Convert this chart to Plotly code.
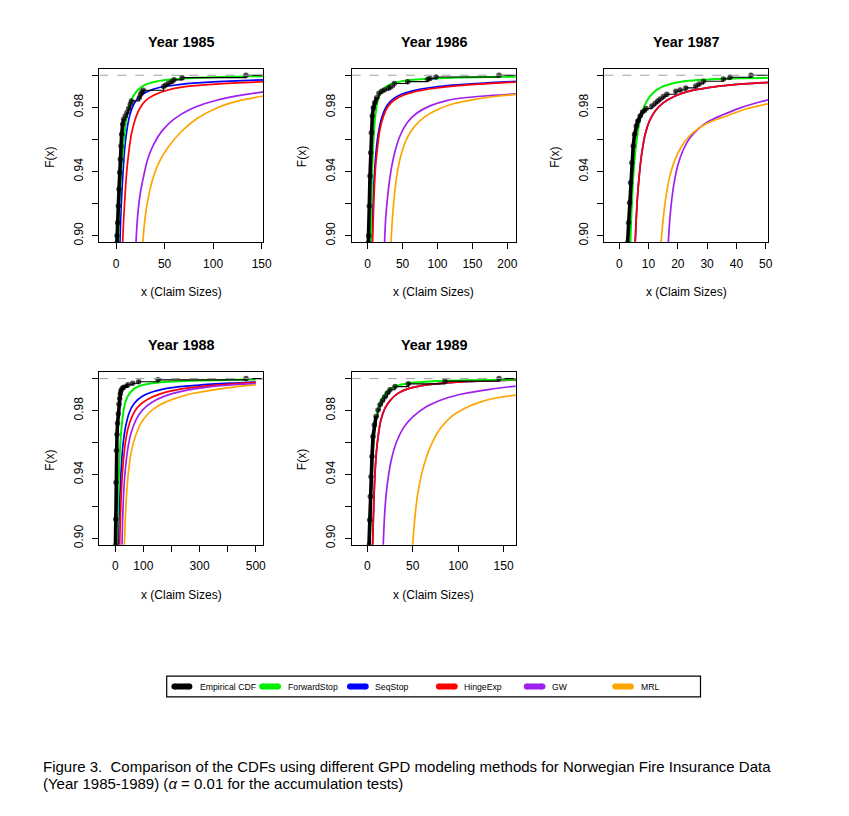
import plotly.graph_objects as go

W, H = 849, 816

# ------------------------------------------------------------------ data
years = ["1985", "1986", "1987", "1988", "1989"]
methods = ["Empirical CDF", "ForwardStop", "SeqStop", "HingeExp", "GW", "MRL"]
method_colors = ["#000000", "#00ee00", "#0000ff", "#ff0000", "#a020f0", "#ffa500"]

# ---- Year 1985
x85_emp = [0.9, 1.03, 1.72, 2.40, 3.09, 3.78, 4.47, 5.15, 5.83, 6.87, 7.89, 9.61, 11.33, 13.04, 14.75, 15.83,
           24.03, 25.40, 26.77, 28.14, 49.05, 51.19, 54.22, 57.35, 59.70, 68.00, 133.8]
F85_emp = [0.8955, 0.9000, 0.9081, 0.9185, 0.9289, 0.9393, 0.9476, 0.9559, 0.9632, 0.9694, 0.9725, 0.9746, 0.9767,
           0.9792, 0.9819, 0.9840, 0.9860, 0.9881, 0.9896, 0.9906, 0.9929, 0.9939, 0.9950, 0.9960, 0.9971, 0.9985, 1.0]
x85_fs = [2.2, 3.13, 4.10, 5.47, 7.23, 9.28, 12.02, 15.44, 20.22, 26.77, 35.37, 49.05, 69.66, 100.6, 155]
F85_fs = [0.894, 0.9102, 0.9247, 0.9393, 0.9538, 0.9663, 0.9767, 0.9840, 0.9892, 0.9929, 0.9952, 0.9969, 0.9979, 0.9988, 0.9994]
x85_ss = [4.0, 4.79, 5.86, 7.23, 8.89, 11.33, 14.46, 18.86, 25.01, 33.61, 45.63, 62.82, 83.44, 117.7, 155]
F85_ss = [0.894, 0.9102, 0.9247, 0.9393, 0.9538, 0.9663, 0.9756, 0.9825, 0.9871, 0.9902, 0.9925, 0.9940, 0.9952, 0.9963, 0.9972]
x85_he = [6.7, 7.91, 9.28, 10.94, 13.09, 15.83, 19.25, 24.03, 30.19, 38.79, 52.56, 69.66, 93.69, 124.6, 155]
F85_he = [0.894, 0.9102, 0.9247, 0.9393, 0.9517, 0.9632, 0.9715, 0.9788, 0.9840, 0.9875, 0.9906, 0.9927, 0.9941, 0.9952, 0.9960]
x85_gw = [20.4, 22.3, 25.1, 28.5, 32.6, 38.8, 47.4, 59.4, 76.6, 97.2, 124.6, 155]
F85_gw = [0.894, 0.9123, 0.9268, 0.9372, 0.9476, 0.9569, 0.9653, 0.9725, 0.9788, 0.9833, 0.9871, 0.9899]
x85_mrl = [27.3, 30.2, 33.6, 38.8, 45.7, 54.2, 66.3, 83.4, 104.0, 128.0, 155]
F85_mrl = [0.894, 0.9123, 0.9247, 0.9372, 0.9474, 0.9555, 0.9643, 0.9730, 0.9796, 0.9843, 0.9873]

# ---- Year 1986
x86_emp = [0.9, 1.4, 2.3, 3.3, 4.25, 5.2, 6.6, 8.1, 10.0, 12.8, 16.2, 20.0, 23.8, 29.5, 32.9, 38.1, 57.2, 85.9,
           89.2, 97.8, 188.0]
F86_emp = [0.8955, 0.9000, 0.9185, 0.9372, 0.9517, 0.9642, 0.9746, 0.9798, 0.9829, 0.9860, 0.9887, 0.9900, 0.9908,
           0.9919, 0.9927, 0.9948, 0.9960, 0.9975, 0.9979, 0.9989, 1.0]
x86_fs = [4.1, 4.7, 5.7, 6.6, 8.1, 10.0, 12.8, 16.6, 22.4, 31.9, 46.2, 70.0, 103.5, 156.0, 215]
F86_fs = [0.894, 0.9123, 0.9289, 0.9434, 0.9580, 0.9705, 0.9808, 0.9871, 0.9912, 0.9943, 0.9960, 0.9973, 0.9981, 0.9988, 0.9991]
x86_ss = [6.0, 7.1, 8.5, 10.4, 12.8, 16.2, 20.9, 27.2, 35.7, 48.6, 67.7, 93.9, 127.3, 170.3, 215]
F86_ss = [0.894, 0.9123, 0.9289, 0.9434, 0.9559, 0.9663, 0.9746, 0.9808, 0.9850, 0.9881, 0.9906, 0.9925, 0.9940, 0.9952, 0.9962]
x86_he = [6.9, 8.1, 9.5, 11.4, 14.3, 17.6, 22.4, 28.6, 37.6, 51.0, 70.1, 96.3, 129.7, 170.3, 215]
F86_he = [0.894, 0.9123, 0.9289, 0.9434, 0.9559, 0.9663, 0.9742, 0.9802, 0.9844, 0.9875, 0.9900, 0.9919, 0.9935, 0.9947, 0.9958]
x86_gw = [24.0, 25.7, 28.6, 32.9, 38.6, 46.2, 56.7, 70.1, 89.2, 113.0, 141.7, 175.1, 215]
F86_gw = [0.894, 0.9102, 0.9247, 0.9393, 0.9517, 0.9621, 0.9705, 0.9763, 0.9809, 0.9842, 0.9861, 0.9873, 0.9884]
x86_mrl = [33.1, 35.3, 38.1, 42.4, 48.6, 56.7, 67.7, 82.0, 101.1, 124.9, 153.6, 184.6, 215]
F86_mrl = [0.894, 0.9102, 0.9247, 0.9393, 0.9517, 0.9611, 0.9684, 0.9742, 0.9788, 0.9825, 0.9850, 0.9869, 0.9882]

# ---- Year 1987
x87_emp = [2.84, 3.18, 3.52, 3.86, 4.32, 4.77, 5.23, 5.80, 6.36, 7.16, 7.95, 9.20, 11.14, 12.27, 13.18, 13.98,
           15.11, 16.25, 19.32, 20.80, 22.73, 26.14, 27.27, 28.75, 35.57, 37.84, 45.0]
F87_emp = [0.8955, 0.9081, 0.9206, 0.9330, 0.9455, 0.9559, 0.9632, 0.9684, 0.9715, 0.9746, 0.9771, 0.9792, 0.9808,
           0.9825, 0.9840, 0.9852, 0.9867, 0.9881, 0.9900, 0.9908, 0.9921, 0.9933, 0.9946, 0.9962, 0.9977, 0.9987, 1.0]
x87_fs = [3.8, 4.09, 4.43, 4.89, 5.57, 6.48, 7.73, 9.43, 11.70, 14.55, 18.52, 23.64, 31.59, 41.82, 52]
F87_fs = [0.894, 0.9102, 0.9247, 0.9393, 0.9538, 0.9663, 0.9767, 0.9840, 0.9892, 0.9927, 0.9950, 0.9965, 0.9975, 0.9981, 0.9984]
x87_ss = [5.4, 5.80, 6.25, 6.93, 7.73, 8.86, 10.34, 12.27, 15.11, 19.09, 24.20, 30.45, 38.41, 52]
F87_ss = [0.894, 0.9102, 0.9247, 0.9393, 0.9517, 0.9632, 0.9715, 0.9777, 0.9829, 0.9871, 0.9902, 0.9923, 0.9940, 0.9956]
x87_he = [5.4, 5.80, 6.25, 6.93, 7.73, 8.86, 10.34, 12.27, 15.11, 19.09, 24.20, 30.45, 38.41, 52]
F87_he = [0.894, 0.9102, 0.9247, 0.9393, 0.9517, 0.9632, 0.9715, 0.9777, 0.9829, 0.9871, 0.9902, 0.9923, 0.9940, 0.9956]
x87_gw = [16.7, 17.27, 17.95, 18.86, 20.11, 21.82, 23.98, 26.82, 30.45, 35.0, 40.68, 46.36, 52]
F87_gw = [0.894, 0.9102, 0.9227, 0.9341, 0.9445, 0.9534, 0.9605, 0.9663, 0.9711, 0.9750, 0.9792, 0.9825, 0.9851]
x87_mrl = [14.2, 15.0, 15.91, 17.16, 18.86, 21.14, 23.98, 27.39, 31.59, 36.70, 42.95, 52]
F87_mrl = [0.894, 0.9102, 0.9237, 0.9362, 0.9466, 0.9553, 0.9621, 0.9673, 0.9713, 0.9746, 0.9788, 0.9827]

# ---- Year 1988
x88_emp = [0.5, 1.5, 2.5, 4.0, 6.0, 8.0, 10.7, 13.0, 15.4, 18.0, 20.2, 24.9, 29.7, 45.1, 61.8, 83.1, 152.0, 465.6]
F88_emp = [0.8955, 0.9120, 0.9350, 0.9550, 0.9650, 0.9720, 0.9780, 0.9840, 0.9875, 0.9905, 0.9925, 0.9940, 0.9945,
           0.9961, 0.9971, 0.9980, 0.9992, 1.0]
x88_fs = [5.5, 8.3, 10.7, 14.3, 17.8, 23.8, 32.1, 43.9, 65.3, 101.0, 160.3, 267.2, 409.7, 500]
F88_fs = [0.894, 0.9115, 0.9282, 0.9449, 0.9595, 0.9721, 0.9825, 0.9888, 0.9934, 0.9961, 0.9977, 0.9987, 0.9992, 0.9994]
x88_ss = [10.5, 13.1, 16.6, 21.4, 27.3, 36.8, 49.9, 67.7, 95.0, 136.6, 196.0, 291.0, 409.7, 500]
F88_ss = [0.894, 0.9115, 0.9282, 0.9449, 0.9585, 0.9700, 0.9788, 0.9846, 0.9888, 0.9919, 0.9942, 0.9958, 0.9971, 0.9978]
x88_he = [15.2, 17.8, 21.4, 26.1, 33.3, 43.9, 59.4, 79.6, 112.8, 160.3, 231.6, 326.6, 433.5, 500]
F88_he = [0.894, 0.9115, 0.9282, 0.9428, 0.9564, 0.9679, 0.9762, 0.9821, 0.9867, 0.9904, 0.9934, 0.9955, 0.9969, 0.9976]
x88_gw = [23.6, 26.1, 29.7, 35.6, 43.9, 55.8, 73.6, 97.4, 130.6, 178.1, 243.5, 326.6, 433.5, 500]
F88_gw = [0.894, 0.9115, 0.9282, 0.9428, 0.9554, 0.9658, 0.9742, 0.9804, 0.9852, 0.9892, 0.9923, 0.9946, 0.9963, 0.9969]
x88_mrl = [31.8, 35.6, 40.4, 47.5, 57.0, 71.3, 91.4, 118.8, 154.4, 207.8, 279.1, 362.2, 457.2, 500]
F88_mrl = [0.894, 0.9115, 0.9282, 0.9428, 0.9543, 0.9637, 0.9721, 0.9783, 0.9831, 0.9873, 0.9908, 0.9933, 0.9955, 0.9960]

# ---- Year 1989
x89_emp = [1.8, 2.57, 3.30, 4.04, 5.14, 6.24, 7.70, 9.54, 11.74, 13.94, 16.51, 19.08, 22.01, 24.94, 30.45, 45.12,
           85.47, 144.9]
F89_emp = [0.8955, 0.9115, 0.9261, 0.9386, 0.9512, 0.9637, 0.9710, 0.9762, 0.9804, 0.9836, 0.9861, 0.9884, 0.9909,
           0.9930, 0.9950, 0.9967, 0.9984, 1.0]
x89_fs = [2.8, 3.67, 4.40, 5.50, 6.97, 9.17, 12.11, 16.51, 23.11, 32.28, 46.96, 72.63, 109.3, 166]
F89_fs = [0.894, 0.9115, 0.9282, 0.9449, 0.9595, 0.9721, 0.9815, 0.9877, 0.9925, 0.9955, 0.9973, 0.9984, 0.9990, 0.9994]
x89_ss = [5.7, 6.60, 7.34, 8.44, 9.90, 12.11, 15.04, 19.44, 25.68, 34.12, 46.96, 65.30, 90.98, 127.7, 166]
F89_ss = [0.894, 0.9115, 0.9261, 0.9407, 0.9533, 0.9648, 0.9742, 0.9815, 0.9867, 0.9909, 0.9940, 0.9961, 0.9975, 0.9986, 0.9992]
x89_he = [5.7, 6.60, 7.34, 8.44, 9.90, 12.11, 15.04, 19.44, 25.68, 34.12, 46.96, 65.30, 90.98, 127.7, 166]
F89_he = [0.894, 0.9115, 0.9261, 0.9407, 0.9533, 0.9648, 0.9742, 0.9815, 0.9867, 0.9909, 0.9940, 0.9961, 0.9975, 0.9986, 0.9992]
x89_gw = [17.4, 18.7, 20.5, 23.1, 26.8, 32.3, 39.6, 50.6, 65.3, 83.6, 105.6, 134.9, 166]
F89_gw = [0.894, 0.9115, 0.9261, 0.9386, 0.9501, 0.9606, 0.9690, 0.9763, 0.9825, 0.9871, 0.9905, 0.9933, 0.9955]
x89_mrl = [49.6, 52.1, 55.0, 59.1, 64.6, 71.9, 80.7, 92.8, 107.5, 125.8, 146.0, 166]
F89_mrl = [0.894, 0.9115, 0.9261, 0.9386, 0.9501, 0.9606, 0.9690, 0.9763, 0.9815, 0.9856, 0.9883, 0.9898]

# number of leading empirical points that form the dense black band
dense_n = [11, 10, 12, 14, 8]
# x where the empirical CDF's last flat segment ends (right edge)
emp_end = [160, 220, 53, 540, 170]

# axis settings
x_ranges = [[-17.2, 151.7], [-22.9, 211.9], [-5.1, 50.9], [-57, 527], [-17.2, 163.3]]
x_tickvals = [[0, 50, 100, 150], [0, 50, 100, 150, 200], [0, 10, 20, 30, 40, 50],
              [0, 100, 200, 300, 400, 500], [0, 50, 100, 150]]
x_ticktext = [["0", "50", "100", "150"], ["0", "50", "100", "150", "200"],
              ["0", "10", "20", "30", "40", "50"], ["0", "100", "", "300", "", "500"],
              ["0", "50", "100", "150"]]
y_range = [0.896, 1.004]
y_tickvals = [0.90, 0.92, 0.94, 0.96, 0.98, 1.00]
y_ticktext = ["0.90", "", "0.94", "", "0.98", ""]

# ------------------------------------------------------------------ layout geometry (pixels)
box_x = [(99.3, 263.3), (351.7, 515.7), (604.3, 768.3), (99.3, 263.3), (351.7, 515.7)]
box_y = [(68.8, 242.1), (68.8, 242.1), (68.8, 242.1), (372.2, 544.7), (372.2, 544.7)]
title_y = [41.7, 41.7, 41.7, 345.0, 345.0]
xlab_y = [291.7, 291.7, 291.7, 595.0, 595.0]


def px(xp):
    return xp / W


def py(yp):
    return 1 - yp / H


panel_data = [
    (x85_emp, F85_emp, [(x85_ss, F85_ss), (x85_he, F85_he), (x85_gw, F85_gw), (x85_mrl, F85_mrl), (x85_fs, F85_fs)]),
    (x86_emp, F86_emp, [(x86_ss, F86_ss), (x86_he, F86_he), (x86_gw, F86_gw), (x86_mrl, F86_mrl), (x86_fs, F86_fs)]),
    (x87_emp, F87_emp, [(x87_ss, F87_ss), (x87_he, F87_he), (x87_gw, F87_gw), (x87_mrl, F87_mrl), (x87_fs, F87_fs)]),
    (x88_emp, F88_emp, [(x88_ss, F88_ss), (x88_he, F88_he), (x88_gw, F88_gw), (x88_mrl, F88_mrl), (x88_fs, F88_fs)]),
    (x89_emp, F89_emp, [(x89_ss, F89_ss), (x89_he, F89_he), (x89_gw, F89_gw), (x89_mrl, F89_mrl), (x89_fs, F89_fs)]),
]
curve_colors = [method_colors[2], method_colors[3], method_colors[4], method_colors[5], method_colors[1]]
curve_names = [methods[2], methods[3], methods[4], methods[5], methods[1]]

fig = go.Figure()
FONT = "Liberation Sans, Arial, Helvetica, sans-serif"

for i in range(5):
    xa = "x" if i == 0 else f"x{i+1}"
    ya = "y" if i == 0 else f"y{i+1}"
    ex, eF, curves = panel_data[i]
    # fitted CDF curves
    for (cx, cF), col, nm in zip(curves, curve_colors, curve_names):
        fig.add_trace(go.Scatter(x=cx, y=cF, mode="lines", xaxis=xa, yaxis=ya,
                                 line=dict(color=col, width=1.7 if nm != "ForwardStop" else 2.0,
                                           shape="spline", smoothing=0.8),
                                 name=nm, showlegend=False, hoverinfo="skip"))
    # empirical CDF: dense band
    n = dense_n[i]
    fig.add_trace(go.Scatter(x=ex[:n], y=eF[:n], mode="lines", xaxis=xa, yaxis=ya,
                             line=dict(color="black", width=3.6), showlegend=False, hoverinfo="skip"))
    # empirical CDF: steps and points
    sx = ex + [emp_end[i]]
    sF = eF + [eF[-1]]
    sizes = [5.5] * len(ex) + [0]
    fig.add_trace(go.Scatter(x=sx, y=sF, mode="lines+markers", xaxis=xa, yaxis=ya,
                             line=dict(color="black", width=1.1, shape="hv"),
                             marker=dict(color="black", size=sizes, line=dict(width=0)),
                             name=methods[0], showlegend=False, hoverinfo="skip"))
    # dashed reference line at F = 1
    fig.add_shape(type="line", xref=f"{xa} domain", yref=ya, x0=0, x1=1, y0=1.0, y1=1.0,
                  line=dict(color="#a0a0a0", width=1, dash="dash"))

layout = dict(width=W, height=H, margin=dict(l=0, r=0, t=0, b=0), template="none",
              paper_bgcolor="white", plot_bgcolor="white", showlegend=False,
              font=dict(family=FONT, color="black"))
for i in range(5):
    k = "" if i == 0 else str(i + 1)
    common = dict(showline=True, linecolor="black", linewidth=1, mirror=True, showgrid=False,
                  zeroline=False, ticks="outside", ticklen=6, tickwidth=1, tickcolor="black",
                  tickfont=dict(size=12, family=FONT, color="black"))
    layout["xaxis" + k] = dict(domain=[px(box_x[i][0]), px(box_x[i][1])], range=x_ranges[i],
                               anchor="y" + k, tickvals=x_tickvals[i], ticktext=x_ticktext[i],
                               ticklabelstandoff=4, **common)
    layout["yaxis" + k] = dict(domain=[py(box_y[i][1]), py(box_y[i][0])], range=y_range,
                               anchor="x" + k, tickvals=y_tickvals, ticktext=y_ticktext,
                               tickangle=-90, ticklabelstandoff=5, **common)
fig.update_layout(**layout)

ann = []
for i, yr in enumerate(years):
    cx = (box_x[i][0] + box_x[i][1]) / 2
    cy = (box_y[i][0] + box_y[i][1]) / 2
    ann.append(dict(text=f"<b>Year {yr}</b>", x=px(cx), y=py(title_y[i]), xref="paper", yref="paper",
                    showarrow=False, xanchor="center", yanchor="middle", font=dict(size=14.4, family=FONT)))
    ann.append(dict(text="x (Claim Sizes)", x=px(cx), y=py(xlab_y[i]), xref="paper", yref="paper",
                    showarrow=False, xanchor="center", yanchor="middle", font=dict(size=12, family=FONT)))
    ann.append(dict(text="F(x)", x=px(box_x[i][0] - 49.5), y=py(cy + 1.5), xref="paper", yref="paper",
                    showarrow=False, xanchor="center", yanchor="middle", textangle=-90,
                    font=dict(size=12, family=FONT)))

# legend (drawn manually)
leg_line_x = [(171.9, 191.9), (259.7, 280.5), (347.5, 368.2), (436.4, 457.2), (524.2, 545.0), (612.7, 633.4)]
leg_text_x = [197.7, 285.5, 373.4, 461.9, 550.0, 638.6]
leg_y = 686.5
fig.add_shape(type="rect", xref="paper", yref="paper", x0=px(166.7), x1=px(700.5), y0=py(696.9), y1=py(676.2),
              line=dict(color="black", width=1.2), fillcolor="rgba(0,0,0,0)")
for (x0, x1), tx, nm, col in zip(leg_line_x, leg_text_x, methods, method_colors):
    fig.add_shape(type="line", xref="paper", yref="paper", x0=px(x0 + 2.5), x1=px(x1 - 2.5),
                  y0=py(leg_y), y1=py(leg_y), line=dict(color=col, width=6))
    for xe in (x0 + 2.5, x1 - 2.5):
        fig.add_shape(type="circle", xref="paper", yref="paper", x0=px(xe - 3), x1=px(xe + 3),
                      y0=py(leg_y + 3), y1=py(leg_y - 3), line=dict(width=0), fillcolor=col)
    ann.append(dict(text=nm, x=px(tx), y=py(leg_y), xref="paper", yref="paper", showarrow=False,
                    xanchor="left", yanchor="middle", font=dict(size=8.7, family=FONT)))

# caption
ann.append(dict(text="Figure 3.  Comparison of the CDFs using different GPD modeling methods for Norwegian Fire Insurance Data",
                x=px(40.5), y=py(766), xref="paper", yref="paper", showarrow=False, xanchor="left",
                yanchor="middle", font=dict(size=15, family=FONT)))
ann.append(dict(text="(Year 1985-1989) (<i>α</i> = 0.01 for the accumulation tests)",
                x=px(40.5), y=py(783), xref="paper", yref="paper", showarrow=False, xanchor="left",
                yanchor="middle", font=dict(size=15, family=FONT)))
fig.update_layout(annotations=ann)

fig.write_html("out.html")
